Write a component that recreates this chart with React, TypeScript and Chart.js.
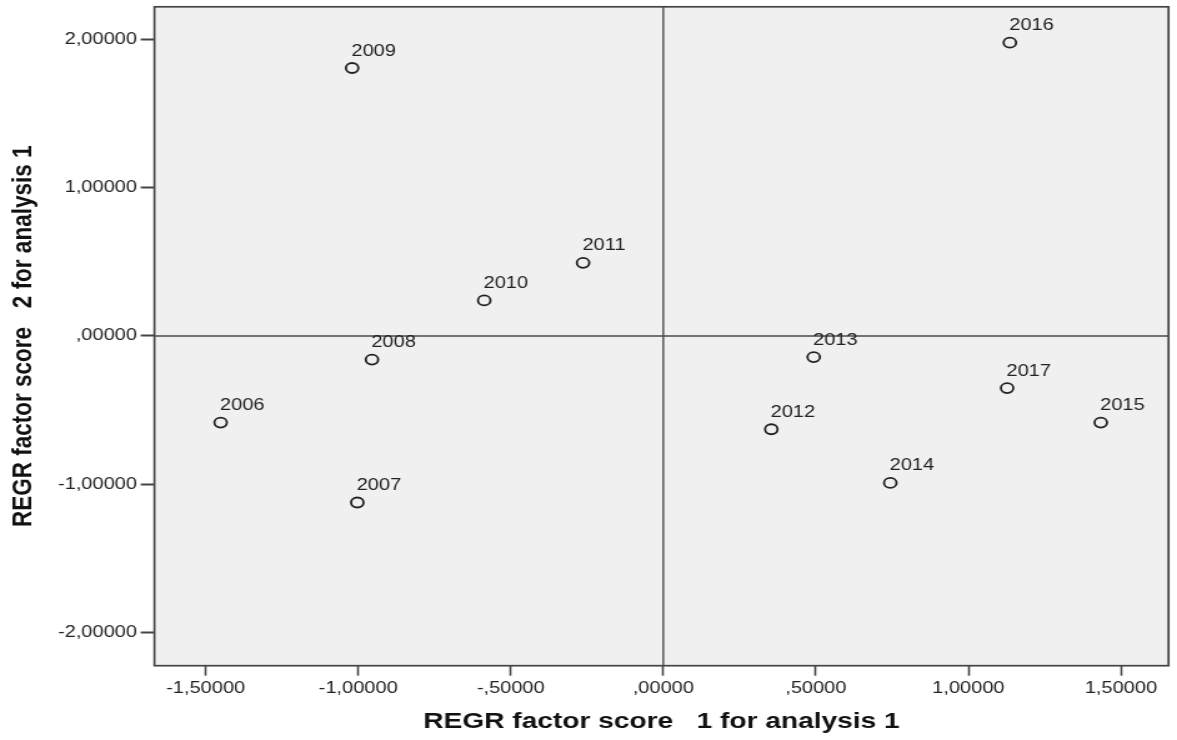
import React, { useEffect, useRef } from "react";
import { Chart, registerables } from "chart.js";

Chart.register(...registerables);

// ---- data ----
const YEARS = ["2006", "2007", "2008", "2009", "2010", "2011", "2012", "2013", "2014", "2015", "2016", "2017"];
const SCORE1 = [-1.451, -1.003, -0.955, -1.02, -0.587, -0.263, 0.354, 0.493, 0.744, 1.434, 1.136, 1.127];
const SCORE2 = [-0.585, -1.124, -0.16, 1.807, 0.239, 0.493, -0.63, -0.143, -0.992, -0.585, 1.978, -0.352];

const X_TICKS = [-1.5, -1, -0.5, 0, 0.5, 1, 1.5];
const X_TICK_LABELS = ["-1,50000", "-1,00000", "-,50000", ",00000", ",50000", "1,00000", "1,50000"];
const Y_TICKS = [-2, -1, 0, 1, 2];
const Y_TICK_LABELS = ["-2,00000", "-1,00000", ",00000", "1,00000", "2,00000"];

const X_TITLE = "REGR factor score   1 for analysis 1";
const Y_TITLE = "REGR factor score   2 for analysis 1";

// canvas is drawn narrower and stretched horizontally (as in the reference)
const CANVAS_W = 942;
const CANVAS_H = 740;
const FONT = "'Liberation Sans', Arial, sans-serif";

const framePlugin = {
  id: "spssFrame",
  beforeDatasetsDraw(chart: any) {
    const { ctx, chartArea: a, scales } = chart;
    ctx.save();
    ctx.fillStyle = "#f0f0f0";
    ctx.fillRect(a.left, a.top, a.right - a.left, a.bottom - a.top);
    const x0 = scales.x.getPixelForValue(0);
    const y0 = scales.y.getPixelForValue(0);
    ctx.strokeStyle = "#4a4a4a";
    ctx.lineWidth = 1.4;
    ctx.beginPath();
    ctx.moveTo(x0, a.top);
    ctx.lineTo(x0, a.bottom);
    ctx.stroke();
    ctx.lineWidth = 1.5;
    ctx.beginPath();
    ctx.moveTo(a.left, y0);
    ctx.lineTo(a.right, y0);
    ctx.stroke();
    ctx.restore();
  },
  afterDatasetsDraw(chart: any) {
    const { ctx, chartArea: a } = chart;
    const meta = chart.getDatasetMeta(0);
    ctx.save();
    ctx.fillStyle = "#222";
    ctx.font = `16px ${FONT}`;
    ctx.textAlign = "left";
    ctx.textBaseline = "alphabetic";
    meta.data.forEach((pt: any, i: number) => {
      ctx.fillText(YEARS[i], pt.x - 0.5, pt.y - 12.5);
    });
    ctx.strokeStyle = "#444";
    ctx.lineWidth = 1.7;
    ctx.strokeRect(a.left, a.top, a.right - a.left, a.bottom - a.top);
    ctx.restore();
  },
};

const noScalePadding = (s: any) => {
  s.paddingTop = 0;
  s.paddingBottom = 0;
  s.paddingLeft = 0;
  s.paddingRight = 0;
};

export default function App() {
  const ref = useRef<HTMLCanvasElement | null>(null);

  useEffect(() => {
    if (!ref.current) return;
    const chart = new Chart(ref.current, {
      type: "scatter",
      data: {
        datasets: [
          {
            label: "scores",
            data: SCORE1.map((x, i) => ({ x, y: SCORE2[i] })),
            pointStyle: "circle",
            pointRadius: 5,
            pointHoverRadius: 5,
            pointBorderWidth: 1.8,
            borderColor: "#222",
            backgroundColor: "rgba(0,0,0,0)",
            pointBackgroundColor: "rgba(0,0,0,0)",
            pointBorderColor: "#222",
          },
        ],
      },
      options: {
        responsive: false,
        animation: false,
        devicePixelRatio: 1,
        layout: { padding: { top: 6, right: 2.4, left: 0, bottom: 0 } },
        plugins: { legend: { display: false }, tooltip: { enabled: false } },
        events: [],
        scales: {
          x: {
            type: "linear",
            min: -1.668,
            max: 1.656,
            afterBuildTicks: (s: any) => {
              s.ticks = X_TICKS.map((v) => ({ value: v }));
            },
            afterFit: (s: any) => {
              s.height = 74.3;
              noScalePadding(s);
            },
            ticks: {
              autoSkip: false,
              maxRotation: 0,
              padding: 3,
              color: "#222",
              font: { family: FONT, size: 16 },
              callback: (v: any) => {
                const i = X_TICKS.indexOf(Number(v));
                return i >= 0 ? X_TICK_LABELS[i] : "";
              },
            },
            grid: {
              display: true,
              drawOnChartArea: false,
              drawTicks: true,
              tickLength: 10,
              tickWidth: 1.6,
              tickColor: "#444",
            },
            border: { display: false },
            title: {
              display: true,
              text: X_TITLE,
              color: "#111",
              font: { family: FONT, size: 22.5, weight: "bold" },
              padding: { top: 0, bottom: 4.5 },
            },
          },
          y: {
            type: "linear",
            min: -2.225,
            max: 2.22,
            afterBuildTicks: (s: any) => {
              s.ticks = Y_TICKS.map((v) => ({ value: v }));
            },
            afterFit: (s: any) => {
              s.width = 123.6;
              noScalePadding(s);
            },
            ticks: {
              autoSkip: false,
              padding: 3,
              color: "#222",
              font: { family: FONT, size: 16 },
              callback: (v: any) => {
                const i = Y_TICKS.indexOf(Number(v));
                return i >= 0 ? Y_TICK_LABELS[i] : "";
              },
            },
            grid: {
              display: true,
              drawOnChartArea: false,
              drawTicks: true,
              tickLength: 11,
              tickWidth: 2,
              tickColor: "#444",
            },
            border: { display: false },
            title: {
              display: true,
              text: Y_TITLE,
              color: "#111",
              font: { family: FONT, size: 22.5, weight: "bold" },
              padding: { top: 5.2, bottom: 0 },
            },
          },
        },
      },
      plugins: [framePlugin],
    } as any);
    return () => chart.destroy();
  }, []);

  return (
    <div style={{ position: "absolute", left: 0, top: 0, width: 1177, height: 740, background: "#fff" }}>
      <canvas
        ref={ref}
        width={CANVAS_W}
        height={CANVAS_H}
        style={{ width: "1177px", height: "740px", display: "block" }}
      />
    </div>
  );
}
